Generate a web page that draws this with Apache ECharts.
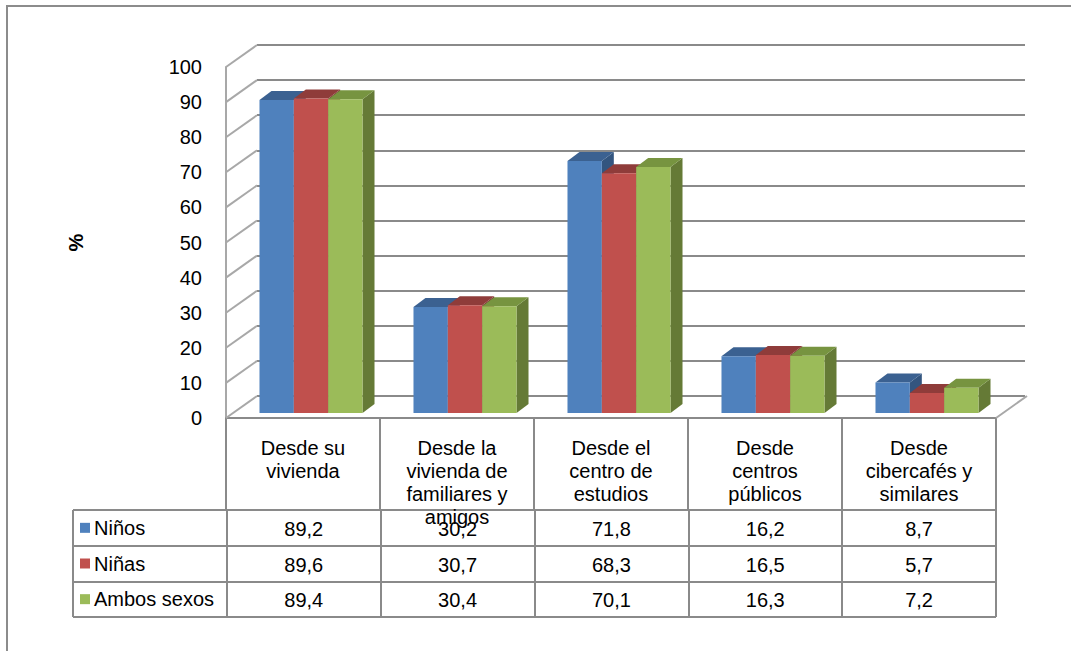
<!DOCTYPE html>
<html><head><meta charset="utf-8">
<script src="https://cdn.jsdelivr.net/npm/echarts@6/dist/echarts.min.js"></script>
<style>html,body{margin:0;padding:0;background:#fff}#c{width:1071px;height:651px}</style>
</head><body><div id="c"></div>
<script>
// ---- data ----
const categories = ['Desde su\nvivienda', 'Desde la\nvivienda de\nfamiliares y\namigos', 'Desde el\ncentro de\nestudios', 'Desde\ncentros\npúblicos', 'Desde\ncibercafés y\nsimilares'];
const seriesNames = ['Niños', 'Niñas', 'Ambos sexos'];
const ninos = [89.2, 30.2, 71.8, 16.2, 8.7];
const ninas = [89.6, 30.7, 68.3, 16.5, 5.7];
const ambos = [89.4, 30.4, 70.1, 16.3, 7.2];
const yTicks = [0, 10, 20, 30, 40, 50, 60, 70, 80, 90, 100];
const yAxisTitle = '%';

// ---- styles ----
const FONT = 'Liberation Sans';
const FS = 20;
const frontColors = ['#4F81BD', '#C0504D', '#9BBB59'];
const topColors = ['#3B6191', '#8F3C3A', '#779440'];
const sideColors = ['#33557F', '#7E3432', '#657A36'];
const gridColor = '#8a8a8a';
const wallColor = '#a8a8a8';
const DEPTH = [31, -22];
const BAR_DEPTH = [12, -9];
const BAR_FRAC = 0.223;

const allValues = [ninos, ninas, ambos];
const fmt = v => v.toFixed(1).replace('.', ',');

function barRenderer(s) {
  return function (params, api) {
    const ci = api.value(0), v = api.value(1);
    const base = api.coord([ci, 0]);
    const top = api.coord([ci, v]);
    const bw = api.size([1, 0])[0] * BAR_FRAC;
    const x0 = base[0] - 1.5 * bw + s * bw;
    const y0 = base[1], y1 = top[1];
    const dx = BAR_DEPTH[0], dy = BAR_DEPTH[1];
    return {
      type: 'group', children: [
        { type: 'polygon', shape: { points: [[x0 + bw, y1], [x0 + bw + dx, y1 + dy], [x0 + bw + dx, y0 + dy], [x0 + bw, y0]] }, style: { fill: sideColors[s] } },
        { type: 'polygon', shape: { points: [[x0, y1], [x0 + dx, y1 + dy], [x0 + bw + dx, y1 + dy], [x0 + bw, y1]] }, style: { fill: topColors[s] } },
        { type: 'rect', shape: { x: x0, y: y1, width: bw, height: y0 - y1 }, style: { fill: frontColors[s] } }
      ]
    };
  };
}

const barSeries = allValues.map((vals, s) => ({
  type: 'custom', name: seriesNames[s], xAxisIndex: 2, yAxisIndex: 2,
  clip: false, z: 5,
  encode: { x: 0, y: 1 },
  data: vals.map((v, i) => [i, v]),
  renderItem: barRenderer(s)
}));

const wallSeries = {
  type: 'custom', xAxisIndex: 0, yAxisIndex: 0, clip: false, z: 1, silent: true,
  encode: { x: 0, y: 1 },
  data: yTicks.map(v => [0, v]),
  renderItem: (params, api) => {
    const cs = params.coordSys;
    const p = api.coord([0, api.value(1)]);
    const children = [{
      type: 'line', shape: { x1: cs.x, y1: p[1], x2: cs.x + DEPTH[0], y2: p[1] + DEPTH[1] },
      style: { stroke: wallColor, lineWidth: 2 }
    }];
    if (api.value(1) === yTicks[0]) {
      children.push({
        type: 'line', shape: { x1: cs.x + cs.width, y1: p[1], x2: cs.x + cs.width + DEPTH[0], y2: p[1] + DEPTH[1] },
        style: { stroke: wallColor, lineWidth: 2 }
      });
    }
    return { type: 'group', children };
  }
};

const tableSeries = {
  type: 'custom', xAxisIndex: 3, yAxisIndex: 3, clip: false, z: 6, silent: true,
  encode: { x: 0, y: 1 },
  data: allValues.flatMap((vals, r) => vals.map((v, i) => [i + 1, r, v])),
  renderItem: (params, api) => {
    const p = api.coord([api.value(0), api.value(1)]);
    return {
      type: 'text', x: p[0], y: p[1] + 1,
      style: { text: fmt(api.value(2)), align: 'center', verticalAlign: 'middle', fontSize: FS, fontFamily: FONT, fill: '#000' }
    };
  }
};

const rich = { t: { fontSize: FS, fontFamily: FONT, color: '#000', padding: [0, 0, 0, 4] } };
seriesNames.forEach((n, i) => { rich['s' + i] = { width: 10, height: 10, backgroundColor: frontColors[i] }; });

const option = {
  animation: false,
  textStyle: { fontFamily: FONT },
  graphic: [{
    type: 'rect', shape: { x: 7, y: 6, width: 1200, height: 800 },
    style: { fill: 'none', stroke: '#8c8c8c', lineWidth: 2 }, silent: true
  }],
  grid: [
    { left: 226, top: 67, width: 770, height: 351 },   // front plane
    { left: 257, top: 45, width: 768, height: 351 },   // back wall
    { left: 234, top: 62, width: 770, height: 351 },   // bars plane
    { left: 73, top: 510, width: 923, height: 107 }    // data table
  ],
  xAxis: [
    {
      gridIndex: 0, type: 'category', data: categories, boundaryGap: true,
      axisLine: { show: true, lineStyle: { color: gridColor, width: 2 } },
      axisTick: { show: true, length: 92, lineStyle: { color: gridColor, width: 2 } },
      axisLabel: { show: true, interval: 0, margin: 18, fontSize: FS, lineHeight: 23, color: '#000', fontFamily: FONT },
      splitLine: { show: false }
    },
    { gridIndex: 1, type: 'category', data: categories, show: false },
    { gridIndex: 2, type: 'category', data: categories, show: false },
    {
      gridIndex: 3, type: 'category', data: [''].concat(categories), boundaryGap: true,
      axisLine: { show: false }, axisTick: { show: false }, axisLabel: { show: false },
      splitLine: { show: true, showMinLine: true, showMaxLine: true, lineStyle: { color: gridColor, width: 2 } }
    }
  ],
  yAxis: [
    {
      gridIndex: 0, type: 'value', min: 0, max: 100, interval: 10,
      name: yAxisTitle, nameLocation: 'middle', nameRotate: 90, nameGap: 140,
      nameTextStyle: { fontSize: FS, fontWeight: 'bold', color: '#000', fontFamily: FONT },
      axisLine: { show: true, lineStyle: { color: wallColor, width: 2 } },
      axisTick: { show: false },
      axisLabel: { margin: 24, fontSize: FS, color: '#000', fontFamily: FONT },
      splitLine: { show: false }
    },
    {
      gridIndex: 1, type: 'value', min: 0, max: 100, interval: 10,
      axisLine: { show: false }, axisTick: { show: false }, axisLabel: { show: false },
      splitLine: { show: true, lineStyle: { color: gridColor, width: 2 } }
    },
    { gridIndex: 2, type: 'value', min: 0, max: 100, interval: 10, show: false, splitLine: { show: false } },
    {
      gridIndex: 3, type: 'category', data: seriesNames, inverse: true, boundaryGap: true,
      axisLine: { show: false }, axisTick: { show: false },
      axisLabel: {
        inside: true, margin: 7, align: 'left',
        formatter: (val, idx) => '{s' + idx + '|}{t|' + val + '}', rich
      },
      splitLine: { show: true, showMinLine: true, showMaxLine: true, lineStyle: { color: gridColor, width: 2 } }
    }
  ],
  series: [wallSeries].concat(barSeries, [tableSeries])
};

const chart = echarts.init(document.getElementById('c'), null, { renderer: 'svg' });
chart.setOption(option);
</script>
</body></html>
